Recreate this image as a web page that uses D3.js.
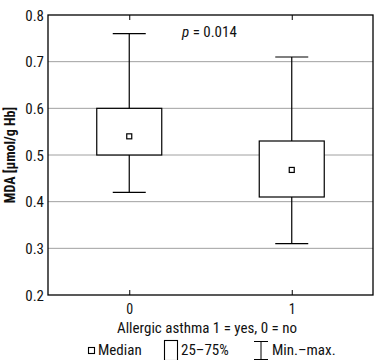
<!DOCTYPE html>
<html><head><meta charset="utf-8">
<script src="https://cdn.jsdelivr.net/npm/d3@7"></script>
<style>
body{margin:0;background:#fff;}
text{font-family:"Roboto Condensed","Liberation Sans",sans-serif;fill:#111;}
</style></head>
<body><svg id="c" width="375" height="360"></svg>
<script>
const categories = ["0","1"];
const mins    = [0.42, 0.31];
const q1s     = [0.50, 0.41];
const medians = [0.54, 0.468];
const q3s     = [0.60, 0.53];
const maxs    = [0.76, 0.71];
const yTicks  = [0.2,0.3,0.4,0.5,0.6,0.7,0.8];
const yLabel = "MDA [μmol/g Hb]";
const xLabel = "Allergic asthma 1 = yes, 0 = no";
const pText = "0.014";

const svg = d3.select("#c");
const L=48, R=373, T=15, B=295;
const x = d3.scalePoint().domain(categories).range([L,R]).padding(0.5);
const y = d3.scaleLinear().domain([0.2,0.8]).range([B,T]);

// grid
svg.append("g").selectAll("line").data(yTicks.slice(1,-1)).join("line")
  .attr("x1",L).attr("x2",R).attr("y1",d=>y(d)).attr("y2",d=>y(d))
  .attr("stroke","#a0a0a0").attr("stroke-width",1);

// axes
const ax = svg.append("g").attr("transform",`translate(${L},0)`)
  .call(d3.axisLeft(y).tickValues(yTicks).tickFormat(d3.format(".1f")).tickSize(0).tickPadding(4));
ax.select(".domain").remove();
ax.selectAll("text").style("font-size","15px").attr("dy","0.35em");

const bx = svg.append("g").attr("transform",`translate(0,${B})`)
  .call(d3.axisBottom(x).tickSize(-5).tickPadding(9));
bx.select(".domain").remove();
bx.selectAll("line").attr("stroke","#000");
bx.selectAll("text").style("font-size","14px");
const tx = svg.append("g").attr("transform",`translate(0,${T})`)
  .call(d3.axisTop(x).tickSize(-5).tickFormat(""));
tx.select(".domain").remove();
tx.selectAll("line").attr("stroke","#000");

// frame
svg.append("rect").attr("x",L).attr("y",T).attr("width",R-L).attr("height",B-T)
  .attr("fill","none").attr("stroke","#000").attr("stroke-width",1.3);

// boxes
const bw=65, cw=33;
const g = svg.append("g").selectAll("g").data(categories).join("g");
g.append("line").attr("x1",d=>x(d)).attr("x2",d=>x(d))
  .attr("y1",(d,i)=>y(mins[i])).attr("y2",(d,i)=>y(maxs[i])).attr("stroke","#000").attr("stroke-width",1.2);
g.append("line").attr("x1",d=>x(d)-cw/2).attr("x2",d=>x(d)+cw/2)
  .attr("y1",(d,i)=>y(mins[i])).attr("y2",(d,i)=>y(mins[i])).attr("stroke","#000").attr("stroke-width",1.2);
g.append("line").attr("x1",d=>x(d)-cw/2).attr("x2",d=>x(d)+cw/2)
  .attr("y1",(d,i)=>y(maxs[i])).attr("y2",(d,i)=>y(maxs[i])).attr("stroke","#000").attr("stroke-width",1.2);
g.append("rect").attr("x",d=>x(d)-bw/2).attr("width",bw)
  .attr("y",(d,i)=>y(q3s[i])).attr("height",(d,i)=>y(q1s[i])-y(q3s[i]))
  .attr("fill","#fff").attr("stroke","#000").attr("stroke-width",1.2);
g.append("rect").attr("x",d=>x(d)-2.5).attr("width",5)
  .attr("y",(d,i)=>y(medians[i])-2.5).attr("height",5)
  .attr("fill","#fff").attr("stroke","#000").attr("stroke-width",1.2);

// p value
const pt = svg.append("text").attr("x",182).attr("y",37).style("font-size","15px");
pt.append("tspan").style("font-style","italic").text("p");
pt.append("tspan").text(" = " + pText);

// y label
svg.append("text").attr("transform",`translate(15,155) rotate(-90)`)
  .attr("text-anchor","middle").style("font-size","14px").style("font-weight","bold").text(yLabel);

// x label
svg.append("text").attr("x",207).attr("y",333).attr("text-anchor","middle")
  .style("font-size","15px").text(xLabel);

// legend
const lg = svg.append("g");
lg.append("rect").attr("x",88.5).attr("y",347.5).attr("width",6).attr("height",6)
  .attr("fill","#fff").attr("stroke","#000").attr("stroke-width",1.1);
lg.append("text").attr("x",98).attr("y",355).style("font-size","15px").text("Median");
lg.append("rect").attr("x",164.5).attr("y",340.5).attr("width",13).attr("height",20)
  .attr("fill","#fff").attr("stroke","#000").attr("stroke-width",1.1);
lg.append("text").attr("x",181).attr("y",355).style("font-size","15px").text("25–75%");
lg.append("line").attr("x1",254).attr("x2",268).attr("y1",341.5).attr("y2",341.5).attr("stroke","#000");
lg.append("line").attr("x1",261).attr("x2",261).attr("y1",341.5).attr("y2",359.5).attr("stroke","#000");
lg.append("line").attr("x1",254).attr("x2",268).attr("y1",359.5).attr("y2",359.5).attr("stroke","#000");
lg.append("text").attr("x",272).attr("y",355).style("font-size","15px").text("Min.–max.");
</script></body></html>
